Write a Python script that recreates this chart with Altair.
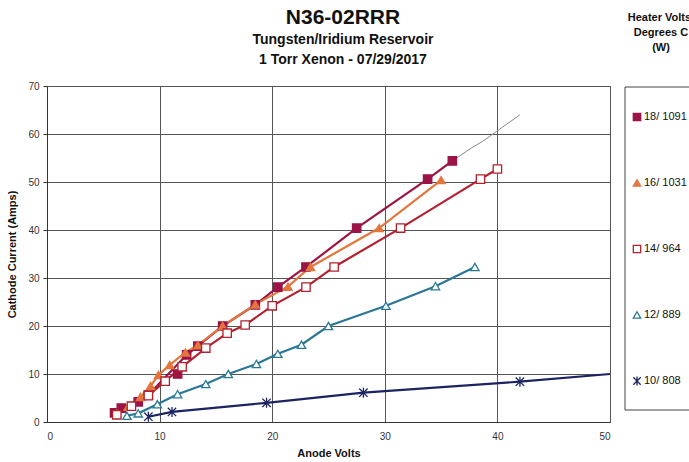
import altair as alt
import pandas as pd

FONT = "Liberation Sans"

series = ["18/ 1091", "16/ 1031", "14/ 964", "12/ 889", "10/ 808"]
line_colors = ["#9c1446", "#e3763f", "#b3202e", "#2b7896", "#1b2363"]
fills = ["#9c1446", "#e3763f", "white", "white", "transparent"]
asterisk = "M-1,-1L1,1M-1,1L1,-1M0,-1.2L0,1.2"
shapes = ["square", "triangle-up", "square", "triangle-up", asterisk]

title_text = "N36-02RRR"
subtitle_lines = ["Tungsten/Iridium  Reservoir", "1 Torr Xenon - 07/29/2017"]
legend_title_lines = ["Heater Volts/", "Degrees C", "(W)"]

# 18 V / 1091 C
s18_x = [6.0, 6.6, 8.1, 9.0, 11.6, 12.4, 13.4, 15.6, 18.5, 20.5, 23.0, 27.5, 33.8, 36.0]
s18_y = [1.9, 2.9, 4.2, 5.6, 10.0, 14.0, 15.8, 20.0, 24.4, 28.1, 32.3, 40.4, 50.6, 54.4]
s18_on_line = [True, True, True, True, False, True, True, True, True, True, True, True, True, True]
# 16 V / 1031 C
s16_x = [6.2, 7.2, 8.3, 9.2, 9.9, 10.9, 12.3, 13.4, 15.6, 18.5, 21.4, 23.4, 29.5, 35.0]
s16_y = [1.8, 3.2, 5.2, 7.5, 9.8, 11.9, 14.5, 16.0, 20.0, 24.5, 28.2, 32.3, 40.4, 50.4]
# 14 V / 964 C
s14_x = [6.2, 7.5, 9.0, 10.5, 12.0, 14.1, 16.0, 17.6, 20.0, 23.0, 25.5, 31.4, 38.5, 40.0]
s14_y = [1.5, 3.3, 5.5, 8.5, 11.5, 15.4, 18.5, 20.2, 24.2, 28.1, 32.3, 40.4, 50.6, 52.7]
# 12 V / 889 C
s12_x = [7.1, 8.1, 9.8, 11.6, 14.1, 16.1, 18.6, 20.5, 22.6, 25.0, 30.1, 34.5, 38.0]
s12_y = [1.3, 1.8, 3.7, 5.8, 7.9, 10.0, 12.1, 14.2, 16.1, 20.0, 24.2, 28.3, 32.3]
# 10 V / 808 C
s10_x = [9.0, 11.1, 19.5, 28.1, 42.0]
s10_y = [1.1, 2.1, 4.0, 6.1, 8.4]
s10_line_end_x = [50.0]
s10_line_end_y = [10.0]
# thin grey continuation above the 18 V series
ext_x = [36.0, 37.7, 38.7, 39.9, 42.0]
ext_y = [54.4, 57.1, 58.5, 60.5, 64.0]

x_ticks = [0, 10, 20, 30, 40, 50]
y_ticks = [0, 10, 20, 30, 40, 50, 60, 70]

all_x = [s18_x, s16_x, s14_x, s12_x, s10_x]
all_y = [s18_y, s16_y, s14_y, s12_y, s10_y]

pts = []
for name, xs_, ys_ in zip(series, all_x, all_y):
    for xv, yv in zip(xs_, ys_):
        pts.append({"series": name, "x": xv, "y": yv})
pts = pd.DataFrame(pts)

lines = []
for name, xs_, ys_ in zip(series, all_x, all_y):
    for i, (xv, yv) in enumerate(zip(xs_, ys_)):
        if name == series[0] and not s18_on_line[i]:
            continue
        lines.append({"series": name, "x": xv, "y": yv, "o": i})
for j, (xv, yv) in enumerate(zip(s10_line_end_x, s10_line_end_y)):
    lines.append({"series": series[4], "x": xv, "y": yv, "o": 100 + j})
lines = pd.DataFrame(lines)

ext = pd.DataFrame({"x": ext_x, "y": ext_y, "o": list(range(len(ext_x)))})

xs = alt.Scale(domain=[0, 50], nice=False)
ys = alt.Scale(domain=[0, 70], nice=False)
xax = alt.Axis(values=x_ticks, title="Anode Volts", grid=True, ticks=False,
               labelPadding=9, titlePadding=6)
yax = alt.Axis(values=y_ticks, title="Cathode Current (Amps)", grid=True,
               tickSize=4, labelPadding=4, titlePadding=10)

line_layer = alt.Chart(lines).mark_line(strokeWidth=2.2).encode(
    x=alt.X("x:Q", scale=xs, axis=xax),
    y=alt.Y("y:Q", scale=ys, axis=yax),
    color=alt.Color("series:N", scale=alt.Scale(domain=series, range=line_colors), legend=None),
    order="o:Q",
)

ext_layer = alt.Chart(ext).mark_line(strokeWidth=1, color="#888888").encode(
    x=alt.X("x:Q", scale=xs),
    y=alt.Y("y:Q", scale=ys),
    order="o:Q",
)

point_layer = alt.Chart(pts).mark_point(size=70, strokeWidth=1.3, opacity=1).encode(
    x=alt.X("x:Q", scale=xs),
    y=alt.Y("y:Q", scale=ys),
    shape=alt.Shape("series:N", scale=alt.Scale(domain=series, range=shapes), legend=None),
    stroke=alt.Stroke("series:N", scale=alt.Scale(domain=series, range=line_colors), legend=None),
    fill=alt.Fill("series:N", scale=alt.Scale(domain=series, range=fills), legend=None),
)

one = pd.DataFrame({"a": [0]})

# legend box and entries (layout in pixels relative to the plot area)
legend_box = alt.Chart(one).mark_rect(
    fill=None, stroke="#444", strokeWidth=1
).encode(x=alt.value(578), x2=alt.value(720), y=alt.value(1), y2=alt.value(324))

legend_layers = []
for i, name in enumerate(series):
    yy = 31 + 66 * i
    legend_layers.append(
        alt.Chart(one).mark_point(size=55, strokeWidth=1.3, opacity=1,
                                  shape=shapes[i], stroke=line_colors[i], fill=fills[i])
        .encode(x=alt.value(590), y=alt.value(yy))
    )
    legend_layers.append(
        alt.Chart(one).mark_text(font=FONT, fontSize=11, color="#111", align="left",
                                 baseline="middle", text=name)
        .encode(x=alt.value(597), y=alt.value(yy))
    )

legend_title = alt.Chart(one).mark_text(
    font=FONT, fontSize=11, fontWeight="bold", color="#111", align="center",
    baseline="middle", lineHeight=15, text=legend_title_lines
).encode(x=alt.value(614), y=alt.value(-68))

main_title = alt.Chart(one).mark_text(
    font=FONT, fontSize=21, fontWeight="bold", color="#111", align="center",
    baseline="middle", text=title_text
).encode(x=alt.value(296), y=alt.value(-68))

sub_title = alt.Chart(one).mark_text(
    font=FONT, fontSize=14, fontWeight="bold", color="#111", align="center",
    baseline="middle", lineHeight=20, text=subtitle_lines
).encode(x=alt.value(296), y=alt.value(-46))

chart = alt.layer(
    line_layer, ext_layer, point_layer, legend_box, *legend_layers,
    legend_title, main_title, sub_title
).properties(
    width=563, height=336,
    autosize=alt.AutoSizeParams(type="none"),
    padding={"left": 47, "top": 86, "right": 79, "bottom": 40},
).configure_view(stroke="#666", strokeWidth=1).configure_axis(
    gridColor="#555", gridWidth=1, gridOpacity=1, domainColor="#333",
    tickColor="#333", labelFont=FONT, labelFontSize=10, labelColor="#333",
    titleFont=FONT, titleFontSize=11, titleFontWeight="bold", titleColor="#111",
)

chart.save("out.html", embed_options={"renderer": "svg", "actions": False})
